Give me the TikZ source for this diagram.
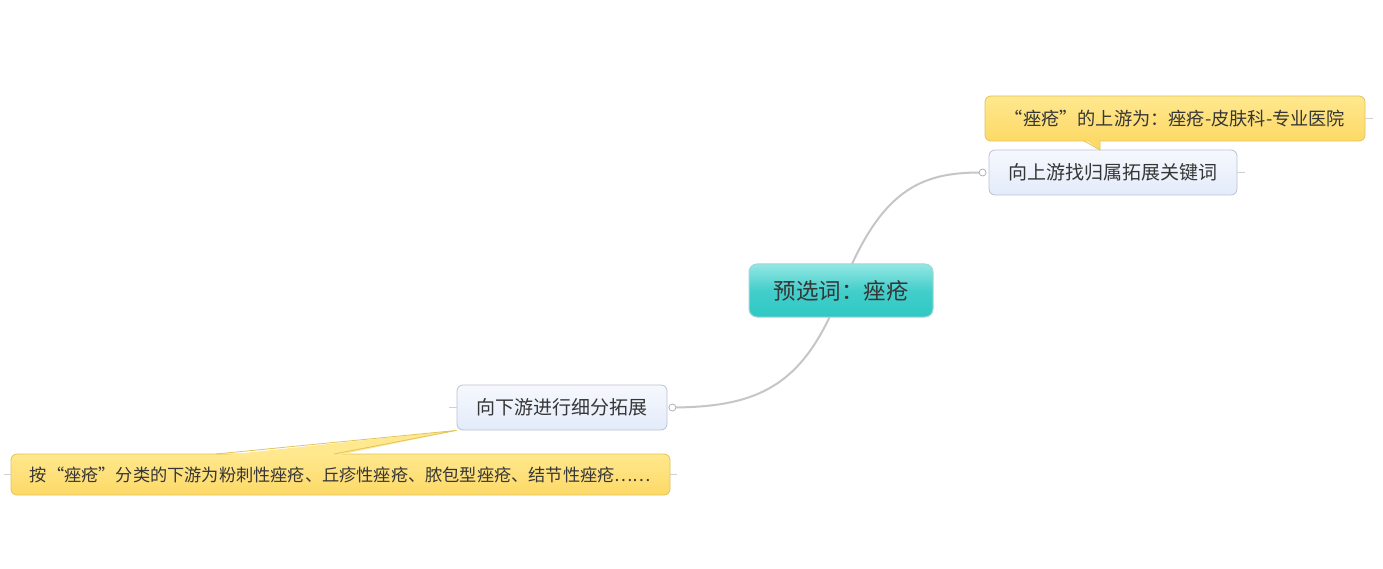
\documentclass[tikz,border=0pt]{standalone}
\usepackage{fontspec}
\newfontfamily\cjk{Noto Sans CJK SC}
\usetikzlibrary{calc}
\definecolor{txtgray}{HTML}{363636}
\definecolor{linegray}{HTML}{C6C6C6}
\definecolor{tealtop}{HTML}{93E7E4}
\definecolor{tealbot}{HTML}{2FC8C4}
\definecolor{tealline}{HTML}{A3D6D5}
\definecolor{bluetop}{HTML}{F6F8FD}
\definecolor{bluebot}{HTML}{E3EBFA}
\definecolor{blueline}{HTML}{B9C3D6}
\definecolor{yeltop}{HTML}{FFE88E}
\definecolor{yelbot}{HTML}{FDD967}
\definecolor{yelline}{HTML}{E3C35A}

\begin{document}
\begin{tikzpicture}[x=1pt,y=-1pt,
  root/.style={rounded corners=8pt,draw=tealline,line width=1pt,top color=tealtop,bottom color=tealbot,middle color=tealbot!80!tealtop,
    minimum width=184pt,minimum height=53pt,inner sep=0pt,text=txtgray,font=\cjk\fontsize{22.5}{26}\selectfont},
  topic/.style={rounded corners=6pt,draw=blueline,line width=0.8pt,top color=bluetop,bottom color=bluebot,
    minimum height=45pt,inner sep=0pt,text=txtgray,font=\cjk\fontsize{19}{22}\selectfont},
  note/.style={rounded corners=6pt,draw=yelline,line width=0.8pt,top color=yeltop,bottom color=yelbot,
    inner sep=0pt,text=txtgray,font=\cjk\fontsize{17.2}{20}\selectfont},
  branch/.style={draw=linegray,line width=2pt},
  stub/.style={draw=linegray!80,line width=0.6pt},
  knob/.style={draw=linegray!90!black,fill=white,line width=0.8pt}]
  \useasboundingbox[fill=white] (0,0) rectangle (1383,569);

  \node[topic,minimum width=248pt] (up) at (1113,172.5) {向上游找归属拓展关键词};
  \node[topic,minimum width=210pt] (down) at (562,407.5) {向下游进行细分拓展};
  \coordinate (upknob) at ($(up.west)+(-6,0)$);
  \coordinate (downknob) at ($(down.east)+(5,0)$);

  \draw[branch] (841,290) .. controls (880,190) and (920,172) .. (upknob);
  \draw[branch] (841,290) .. controls (805,385) and (760,407) .. (downknob);
  \node[root] (pre) at (841,290.5) {预选词：痤疮};
  \draw[knob] (upknob) circle(3.5);
  \draw[knob] (downknob) circle(3.5);

  \node[note,minimum width=380pt,minimum height=45pt,font=\cjk\fontsize{18.2}{21}\selectfont] (upnote) at (1175,118.5) {“痤疮”的上游为：痤疮-皮肤科-专业医院};
  \node[note,minimum width=659pt,minimum height=41pt] (downnote) at (340.5,474.5) {按“痤疮”分类的下游为粉刺性痤疮、丘疹性痤疮、脓包型痤疮、结节性痤疮……};

  \fill[yelbot] (1084,139) -- (1100,150) -- (1100,139) -- cycle;
  \draw[yelline,line width=0.8pt] (1084,141) -- (1100,150) -- (1100,141);
  \fill[yeltop] (216,456) -- (down.south west) -- (334,456) -- cycle;
  \draw[yelline,line width=0.8pt] (216,454) -- (down.south west) -- (334,454);

  \draw[stub] (upnote.east) -- +(8,0);
  \draw[stub] (up.east) -- +(8,0);
  \draw[stub] (down.west) -- +(-8,0);
  \draw[stub] (downnote.west) -- +(-7,0);
  \draw[stub] (downnote.east) -- +(7,0);
\end{tikzpicture}
\end{document}
